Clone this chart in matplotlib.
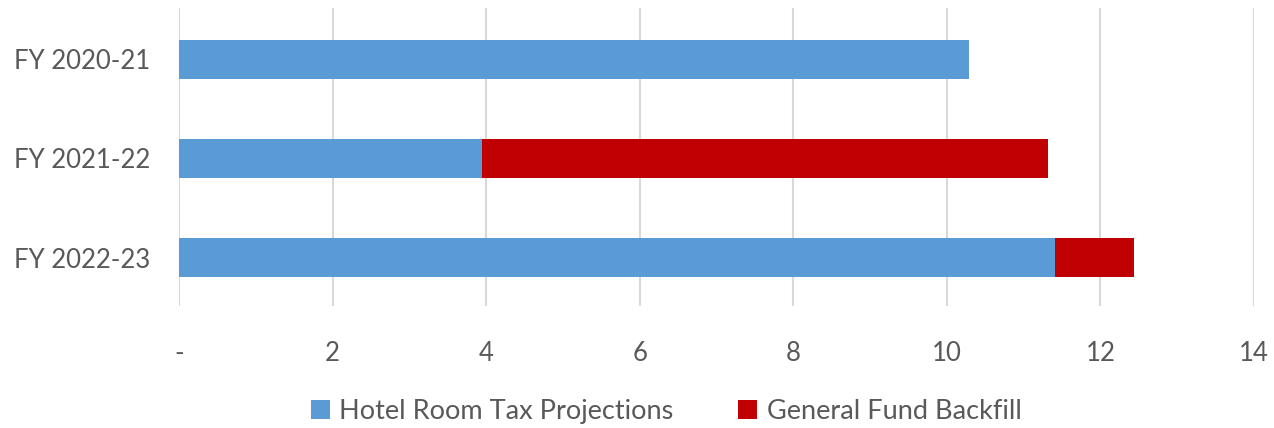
import matplotlib
matplotlib.use("Agg")
import matplotlib.pyplot as plt
import numpy as np

years = ["FY 2020-21", "FY 2021-22", "FY 2022-23"]
hotel_tax = [10.29, 3.95, 11.41]
backfill = [0.0, 7.37, 1.03]
xticks = [0, 2, 4, 6, 8, 10, 12, 14]
xtick_labels = ["-", "2", "4", "6", "8", "10", "12", "14"]

blue = "#5b9bd5"
red = "#c00000"
grey_text = "#595959"

plt.rcParams['font.family'] = ['Lato', 'DejaVu Sans']

fig = plt.figure(figsize=(12.74, 4.28), dpi=100)
ax = fig.add_axes([0.1405, 0.285, 0.8438, 0.6963])

y = np.arange(len(years))
ax.barh(y, hotel_tax, height=0.4, color=blue, label="Hotel Room Tax Projections", zorder=3)
ax.barh(y, backfill, left=hotel_tax, height=0.4, color=red, label="General Fund Backfill", zorder=3)

ax.set_xlim(0, 14)
ax.set_ylim(2.49, -0.52)
ax.set_xticks(xticks)
ax.set_xticklabels(xtick_labels)
ax.set_yticks(y)
ax.set_yticklabels(years)
ax.xaxis.grid(True, color="#d9d9d9", linewidth=1.5, zorder=0)
for s in ax.spines.values():
    s.set_visible(False)
ax.tick_params(axis="both", length=0, labelsize=18.5, colors=grey_text)
ax.tick_params(axis="x", pad=25)
ax.tick_params(axis="y", pad=21)

# legend below the plot, centred a little right of the figure middle
leg = fig.legend(loc="center", bbox_to_anchor=(0.523, 0.038), ncol=2, frameon=False,
                 fontsize=19.5, handlelength=0.7, handleheight=0.7, handletextpad=0.35,
                 columnspacing=2.4)
for t in leg.get_texts():
    t.set_color(grey_text)

fig.savefig("out.png", dpi=100)
